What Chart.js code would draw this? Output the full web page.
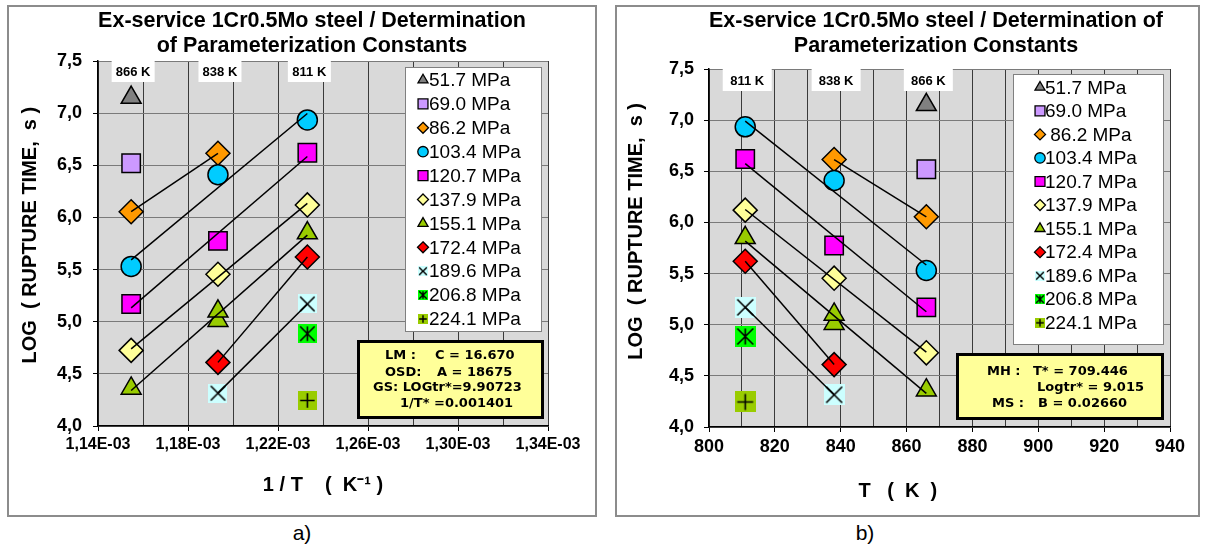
<!DOCTYPE html>
<html>
<head>
<meta charset="utf-8">
<script src="https://cdn.jsdelivr.net/npm/chart.js@4.4.0/dist/chart.umd.min.js"></script>
<style>
  body { margin: 0; background: #fff; width: 1205px; height: 549px; position: relative; overflow: hidden;
         font-family: "Liberation Sans", Arial, sans-serif; }
  .panel { position: absolute; top: 5px; height: 512px; border: 2px solid #8c8c8c; box-sizing: border-box; }
  .panel canvas { display: block; }
  #p1 { left: 7px; width: 590px; }
  #p2 { left: 615px; width: 585px; }
  .cap { position: absolute; top: 521px; width: 60px; text-align: center; font-size: 21px; }
</style>
</head>
<body>
<div class="panel" id="p1"><canvas id="c1" width="586" height="508"></canvas></div>
<div class="panel" id="p2"><canvas id="c2" width="581" height="508"></canvas></div>
<div class="cap" style="left:272px">a)</div>
<div class="cap" style="left:835px">b)</div>

<script>
// stress levels (legend order)
const stressLabels = ['51.7 MPa', '69.0 MPa', '86.2 MPa', '103.4 MPa', '120.7 MPa', '137.9 MPa',
                      '155.1 MPa', '172.4 MPa', '189.6 MPa', '206.8 MPa', '224.1 MPa'];
// test temperatures (K) for each stress level
const testTemps = [
  [866], [866], [838, 866], [811, 838, 866], [811, 838, 866], [811, 838, 866],
  [811, 838, 838, 866], [811, 838], [811, 838], [811], [811]
];
// log10 of rupture time (s), same layout as testTemps
const logRupture = [
  [7.15], [6.52], [6.615, 6.055], [6.935, 6.41, 5.53], [6.62, 5.775, 5.17], [6.12, 5.455, 4.725],
  [5.85, 5.01, 5.10, 4.36], [5.62, 4.61], [5.17, 4.315], [4.885], [4.245]
];
const tempMarks = [866, 838, 811];
const infoLeft = ['LM :', 'C = 16.670', 'OSD:', 'A = 18675', 'GS: LOGtr*=9.90723', '1/T* =0.001401'];
const infoRight = ['MH :', 'T* = 709.446', 'Logtr* = 9.015', 'MS :', 'B = 0.02660'];

// marker look per stress level
const markerKinds = ['triangle', 'rect', 'rectRot', 'circle', 'rect', 'rectRot', 'triangle', 'rectRot', 'cross', 'star', 'plus'];
const markerColors = ['#808080', '#cc99ff', '#ff9900', '#00ccff', '#ff00ff', '#ffff99', '#99cc00', '#ff0000', '#ccffff', '#00ff00', '#99cc00'];
const bigRadius = { triangle: 11.5, rect: 13, rectRot: 12, circle: 10 };
const smallRadius = { triangle: 5.8, rect: 7, rectRot: 5.5, circle: 5.2 };

const FONT = '"Liberation Sans", Arial, sans-serif';

function boxMarker(kind, fill, size) {
  const c = document.createElement('canvas');
  c.width = size; c.height = size;
  const g = c.getContext('2d');
  g.fillStyle = fill;
  g.fillRect(0, 0, size, size);
  g.strokeStyle = '#000';
  g.lineWidth = size > 12 ? 1.6 : 1.4;
  const a = size * 0.12, b = size - a, m = size / 2;
  g.beginPath();
  if (kind === 'cross' || kind === 'star') {
    g.moveTo(a, a); g.lineTo(b, b);
    g.moveTo(b, a); g.lineTo(a, b);
  }
  if (kind === 'star') {
    g.moveTo(m, a); g.lineTo(m, b);
  }
  if (kind === 'plus') {
    g.moveTo(m, a); g.lineTo(m, b);
    g.moveTo(a, m); g.lineTo(b, m);
  }
  g.stroke();
  return c;
}

function isBox(i) { return ['cross', 'star', 'plus'].includes(markerKinds[i]); }

// small marker for the legend box
function drawSmallMarker(ctx, i, x, y) {
  const kind = markerKinds[i];
  if (isBox(i)) {
    const img = boxMarker(kind, markerColors[i], 10);
    ctx.drawImage(img, x - 5, y - 5);
    return;
  }
  const r = smallRadius[kind];
  ctx.save();
  ctx.fillStyle = markerColors[i];
  ctx.strokeStyle = '#000';
  ctx.lineWidth = 1.3;
  ctx.beginPath();
  if (kind === 'triangle') {
    ctx.moveTo(x, y - r);
    ctx.lineTo(x + r * 0.866, y + r / 2);
    ctx.lineTo(x - r * 0.866, y + r / 2);
    ctx.closePath();
  } else if (kind === 'rect') {
    const s = r * 0.707;
    ctx.rect(x - s, y - s, 2 * s, 2 * s);
  } else if (kind === 'rectRot') {
    ctx.moveTo(x, y - r); ctx.lineTo(x + r, y); ctx.lineTo(x, y + r); ctx.lineTo(x - r, y);
    ctx.closePath();
  } else {
    ctx.arc(x, y, r, 0, Math.PI * 2);
  }
  ctx.fill();
  ctx.stroke();
  ctx.restore();
}

function fitLine(pts) {
  const n = pts.length;
  const mx = pts.reduce((s, p) => s + p.x, 0) / n;
  const my = pts.reduce((s, p) => s + p.y, 0) / n;
  let sxy = 0, sxx = 0;
  pts.forEach(p => { sxy += (p.x - mx) * (p.y - my); sxx += (p.x - mx) * (p.x - mx); });
  const k = sxy / sxx;
  const xs = pts.map(p => p.x);
  const x0 = Math.min(...xs), x1 = Math.max(...xs);
  return [{ x: x0, y: my + k * (x0 - mx) }, { x: x1, y: my + k * (x1 - mx) }];
}

function makeChart(id, o) {
  const datasets = [];
  stressLabels.forEach((lab, i) => {
    const pts = testTemps[i].map((T, j) => ({ x: o.toX(T), y: logRupture[i][j] }));
    if (pts.length > 1) {
      datasets.push({
        label: lab + ' fit', data: fitLine(pts), showLine: true, borderColor: '#000',
        borderWidth: 1.5, pointRadius: 0, order: 0
      });
    }
    const kind = markerKinds[i];
    datasets.push({
      label: lab,
      data: pts,
      pointStyle: isBox(i) ? boxMarker(kind, markerColors[i], o.boxSize) : kind,
      pointRadius: isBox(i) ? 9 : bigRadius[kind],
      backgroundColor: markerColors[i],
      borderColor: '#000',
      borderWidth: 1.5,
      order: 20 - i
    });
  });

  const overlay = {
    id: 'overlay',
    beforeDraw(chart) {
      const { ctx, chartArea: a } = chart;
      ctx.save();
      ctx.fillStyle = '#d9d9d9';
      ctx.fillRect(a.left, a.top, a.right - a.left, a.bottom - a.top);
      ctx.restore();
    },
    beforeDatasetsDraw(chart) {
      const { ctx, chartArea: a } = chart;
      const xs = chart.scales.x;
      ctx.save();
      // temperature tags
      ctx.font = 'bold 13px ' + FONT;
      ctx.textAlign = 'center';
      ctx.textBaseline = 'middle';
      tempMarks.forEach(T => {
        const cx = xs.getPixelForValue(o.toX(T)) + 2;
        ctx.fillStyle = '#fff';
        ctx.fillRect(cx - o.tagW / 2, a.top, o.tagW, o.tagH);
        ctx.fillStyle = '#000';
        ctx.fillText(T + ' K', cx, a.top + o.tagH / 2 + 1);
      });
      // legend box
      const L = o.legend;
      ctx.fillStyle = '#fff';
      ctx.fillRect(L.x, L.y, L.w, L.h);
      ctx.strokeStyle = '#808080';
      ctx.lineWidth = 1;
      ctx.strokeRect(L.x + 0.5, L.y + 0.5, L.w - 1, L.h - 1);
      ctx.font = '19px ' + FONT;
      ctx.textAlign = 'left';
      stressLabels.forEach((lab, i) => {
        const y = L.row0 + i * L.step;
        drawSmallMarker(ctx, i, L.mx, y);
        ctx.fillStyle = '#000';
        ctx.fillText(o.legendText(lab), L.tx, y + 1);
      });
      ctx.restore();
    },
    afterDraw(chart) {
      const ctx = chart.ctx;
      ctx.save();
      // chart title
      ctx.font = 'bold 21.5px ' + FONT;
      ctx.fillStyle = '#000';
      ctx.textAlign = 'center';
      ctx.textBaseline = 'middle';
      o.title.forEach((t, k) => ctx.fillText(t, o.titleX, 14 + k * 25));
      // parameter box
      const B = o.info;
      ctx.fillStyle = '#ffff99';
      ctx.fillRect(B.x, B.y, B.w, B.h);
      ctx.strokeStyle = '#000';
      ctx.lineWidth = 3;
      ctx.strokeRect(B.x + 1.5, B.y + 1.5, B.w - 3, B.h - 3);
      ctx.fillStyle = '#000';
      ctx.font = 'bold 13px "DejaVu Sans", Verdana, sans-serif';
      ctx.textAlign = 'left';
      B.lines.forEach(l => ctx.fillText(l[0], l[1], l[2]));
      ctx.restore();
    }
  };

  return new Chart(document.getElementById(id), {
    type: 'scatter',
    data: { datasets },
    plugins: [overlay],
    options: {
      responsive: false,
      animation: false,
      events: [],
      layout: { padding: { top: o.top, right: o.right, left: 0, bottom: 0 } },
      plugins: { legend: { display: false }, tooltip: { enabled: false } },
      scales: {
        x: {
          type: 'linear', min: o.xMin, max: o.xMax,
          afterFit: s => { s.height = o.xH; },
          ticks: {
            stepSize: o.xStep, autoSkip: false, maxRotation: 0, padding: 4, color: '#000',
            font: { family: FONT, size: o.xTickSize, weight: 'bold' },
            callback: (v, i) => (i % 2 ? '' : o.xFmt(v))
          },
          grid: {
            color: '#3a3a3a', lineWidth: 1, tickLength: 5,
            tickColor: c => (c.index % 2 ? 'rgba(0,0,0,0)' : '#000')
          },
          border: { color: '#000', width: 1.5 },
          title: {
            display: true, text: o.xTitle, color: '#000',
            font: { family: FONT, size: 20, weight: 'bold' }, padding: { top: 0, bottom: o.xTitlePad }
          }
        },
        y: {
          min: 4, max: 7.5,
          afterFit: s => { s.width = o.yW; },
          ticks: {
            stepSize: 0.5, padding: o.yTickPad, color: '#000',
            font: { family: FONT, size: 18, weight: 'bold' },
            callback: v => v.toFixed(1).replace('.', ',')
          },
          grid: { color: '#7a7a7a', lineWidth: 1, tickLength: 5, tickColor: '#000' },
          border: { color: '#000', width: 1.5 },
          title: {
            display: true, text: o.yTitle, color: '#000',
            font: { family: FONT, size: 20, weight: 'bold' }, padding: { top: o.yTitlePad, bottom: 0 }
          }
        }
      }
    }
  });
}

// a) log tr against 1/T
makeChart('c1', {
  toX: T => 1000 / T,
  xMin: 1.14, xMax: 1.34, xStep: 0.02, xTickSize: 16,
  xFmt: v => v.toFixed(2).replace('.', ',') + 'E-03',
  xTitle: '1 / T    (  K\u207B\u00B9 )',
  yTitle: '   LOG  ( RUPTURE TIME,  s )',
  top: 54, right: 47, yW: 89, xH: 89, xTitlePad: 18, yTitlePad: 9, yTickPad: 11,
  boxSize: 19, tagW: 43, tagH: 21,
  title: ['Ex-service 1Cr0.5Mo steel / Determination', 'of Parameterization Constants'],
  titleX: 303,
  legend: { x: 396, y: 60, w: 137, h: 265, row0: 73, step: 23.9, mx: 414, tx: 420 },
  legendText: lab => lab,
  info: {
    x: 348, y: 333, w: 187, h: 79,
    lines: [[infoLeft[0], 376, 349], [infoLeft[1], 426, 349], [infoLeft[2], 376, 365.5],
            [infoLeft[3], 428, 365.5], [infoLeft[4], 364, 381], [infoLeft[5], 391, 397]]
  }
});

// b) log tr against T
makeChart('c2', {
  toX: T => T,
  xMin: 800, xMax: 940, xStep: 10, xTickSize: 18,
  xFmt: v => String(Math.round(v)),
  xTitle: 'T   (  K  )               ',
  yTitle: '      LOG  ( RUPTURE TIME,  s )',
  top: 62, right: 28, yW: 92, xH: 88, xTitlePad: 12, yTitlePad: 7.5, yTickPad: 10,
  boxSize: 21, tagW: 49, tagH: 22,
  title: ['Ex-service 1Cr0.5Mo steel / Determination of', 'Parameterization Constants'],
  titleX: 319,
  legend: { x: 396, y: 67, w: 151, h: 271, row0: 80.3, step: 23.55, mx: 423, tx: 428 },
  legendText: lab => (lab === '86.2 MPa' ? ' ' + lab : lab),
  info: {
    x: 339, y: 346, w: 208, h: 67,
    lines: [[infoRight[0], 370, 364.5], [infoRight[1], 416, 364.5], [infoRight[2], 420, 380.5],
            [infoRight[3], 375, 396.5], [infoRight[4], 421, 396.5]]
  }
});
</script>
</body>
</html>
